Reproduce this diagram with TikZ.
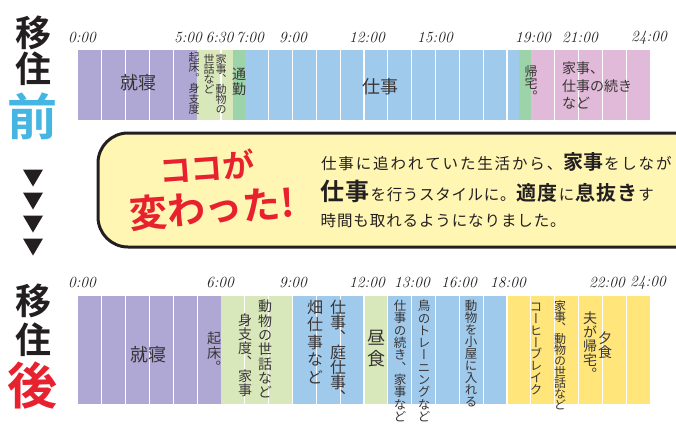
\documentclass[tikz,border=0pt]{standalone}
\usepackage{fontspec}
\newfontfamily\jp[BoldFont={Noto Sans CJK JP Bold}]{Noto Sans CJK JP}
\newfontfamily\jpv[RawFeature=+vert]{Noto Sans CJK JP}
\usetikzlibrary{positioning}

\definecolor{sleepc}{HTML}{AFA8D4}
\definecolor{homec}{HTML}{D9E8BA}
\definecolor{movec}{HTML}{9DD3A8}
\definecolor{workc}{HTML}{A0CAEC}
\definecolor{eveningc}{HTML}{E2BAD9}
\definecolor{freec}{HTML}{FFE57A}
\definecolor{inkc}{HTML}{231F20}
\definecolor{beforec}{HTML}{45B5E2}
\definecolor{afterc}{HTML}{E8212E}
\definecolor{notec}{HTML}{FFF6B3}

\tikzset{
	hour/.style={font=\fontsize{15.5}{15.5}\selectfont\itshape, text=inkc, inner sep=0pt},
	sep/.style={draw=white, line width=1.2pt},
	memo/.style={font=\fontsize{#1}{#1}\selectfont\jp, text=inkc!90, inner sep=0pt},
	vmemo/.style={font=\fontsize{#1}{#1}\selectfont\jpv, text=inkc!90, inner sep=0pt, anchor=north},
	side/.style={font=\fontsize{#1}{#1}\selectfont\jp\bfseries, inner sep=0pt},
	msg/.style={font=\fontsize{15.5}{15.5}\selectfont\jp, text=inkc, inner sep=0pt, anchor=base west}
}
\newcommand{\hx}[1]{78+#1*23.833}
\newcommand{\seg}[5]{
	\fill[#5] ({\hx{#3}},#1) rectangle ({\hx{#4}},#2);
}
% one character per line / per cell
\def\vchars#1{\ifx#1\relax\else\hbox to 1em{\hss#1\hss}\expandafter\vchars\fi}
\newcommand{\vtext}[2]{\vbox{\baselineskip=#1\lineskiplimit=-100pt\vchars#2\relax}}
\def\hchars#1{\ifx#1\relax\else\hbox to \cellw{\hss#1\hss}\expandafter\hchars\fi}
\newcommand{\spread}[2]{{\def\cellw{#1}\hchars#2\relax}}
\newcommand{\bg}[3]{{\fontsize{#1}{#1}\selectfont\bfseries\spread{#2}{#3}}}

\begin{document}
\begin{tikzpicture}[x=1pt,y=-1pt]
	\useasboundingbox (0,0) rectangle (676,428);
	\clip (0,0) rectangle (676,428);
	\fill[white] (0,0) rectangle (676,428);

	% before
	\node[side=36, text=inkc] (ido1) at (33,33) {移};
	\node[side=36, text=inkc] (ju1) at (33,69) {住};
	\node[side=50, text=beforec] (mae) at (32,116) {前};

	\seg{50}{120}{0}{5}{sleepc}
	\seg{50}{120}{5}{6.5}{homec}
	\seg{50}{120}{6.5}{7}{movec}
	\seg{50}{120}{7}{18.5}{workc}
	\seg{50}{120}{18.5}{19}{movec}
	\seg{50}{120}{19}{24}{eveningc}
	\foreach \h in {1,2,3,4,6,8,9,...,18,20,21,22,23}
		\draw[sep] ({\hx{\h}},50) -- ({\hx{\h}},120);

	\foreach \t/\x in {0:00/82,5:00/188,6:30/219.5,7:00/250,9:00/293,12:00/367,15:00/435,19:00/533,21:00/580,24:00/649}
		\node[hour] at (\x,38) {\t};

	\node[memo=18] (sleep1) at (138,83) {就寝};
	\node[memo=18] (work1) at (380,87) {仕事};
	\node[vmemo=11] (rise1) at (194,52) {\vtext{10.5pt}{起床。身支度}};
	\node[vmemo=11] (chore1a) at (221,54) {\vtext{10pt}{家事、動物の}};
	\node[vmemo=11] (chore1b) at (209,54) {\vtext{10pt}{世話など}};
	\node[vmemo=14] (commute) at (239,68) {\vtext{14.5pt}{通勤}};
	\node[vmemo=13] (home1) at (531,65) {\vtext{12.7pt}{帰宅。}};
	\node[memo=14, font=\fontsize{14}{17.5}\selectfont\jp, anchor=west, align=left] (even1) at (562,85.5) {家事、\\仕事の続き\\など};

	% change
	\draw[line width=3pt, draw=inkc, fill=notec, rounded corners=30pt] (98,133) rectangle (730,247);
	\node[side=32, text=afterc, rotate=4] (koko) at (207,167) {ココが};
	\node[side=38, text=afterc, rotate=4] (kawatta) at (212,208) {変わった!};
	\node[msg] (line1) at (320,169) {\spread{17.36pt}{仕事に追われていた生活から、}\bg{20}{20pt}{家事}\spread{17.3pt}{をしなが}};
	\node[msg] (line2) at (320,200) {\bg{24}{25pt}{仕事}\spread{16.2pt}{を行うスタイルに。}\bg{20}{21pt}{適度}\spread{17pt}{に}\bg{20}{21pt}{息抜き}\spread{16pt}{す}};
	\node[msg] (line3) at (320,226) {\spread{16.4pt}{時間も取れるようになりました。}};

	\foreach \y in {178,201,224,247}
		\fill[inkc] (23,\y-8.5) -- (43,\y-8.5) -- (33,\y+8.5) -- cycle;

	% after
	\node[side=36, text=inkc] (ido2) at (33,301) {移};
	\node[side=36, text=inkc] (ju2) at (33,340) {住};
	\node[side=50, text=afterc] (ato) at (33,385) {後};

	\seg{296}{404}{0}{6}{sleepc}
	\seg{296}{404}{6}{9}{homec}
	\seg{296}{404}{9}{12}{workc}
	\seg{296}{404}{12}{13}{homec}
	\seg{296}{404}{13}{18}{workc}
	\seg{296}{404}{18}{24}{freec}
	\foreach \h in {1,...,5,7,8,...,23}
		\draw[sep] ({\hx{\h}},296) -- ({\hx{\h}},404);

	\foreach \t/\x in {0:00/82,6:00/220,9:00/293,12:00/367,13:00/412,16:00/459,18:00/508,22:00/607,24:00/648}
		\node[hour] at (\x,283) {\t};

	\node[memo=18] (sleep2) at (148,355) {就寝};
	\node[vmemo=14] (rise2) at (214,332) {\vtext{14.3pt}{起床。}};
	\node[vmemo=14] (care2b) at (245,313) {\vtext{14pt}{身支度、家事}};
	\node[vmemo=14] (care2a) at (265,300) {\vtext{14.3pt}{動物の世話など}};
	\node[vmemo=16] (farm2b) at (315,300) {\vtext{17.4pt}{畑仕事など}};
	\node[vmemo=16] (farm2a) at (338,300) {\vtext{15pt}{仕事、庭仕事、}};
	\node[vmemo=18] (lunch) at (376,330) {\vtext{21pt}{昼食}};
	\node[vmemo=12.5] (work2) at (400,300) {\vtext{12.3pt}{仕事の続き、家事など}};
	\node[vmemo=12.5] (bird) at (424,300) {\vtext{12.3pt}{鳥のトレーニングなど}};
	\node[vmemo=12.5] (barn) at (471,300) {\vtext{12pt}{動物を小屋に入れる}};
	\node[vmemo=12.5] (coffee) at (536,303) {\vtext{11.8pt}{コーヒーブレイク}};
	\node[vmemo=12] (chore2) at (560,300) {\vtext{11pt}{家事、動物の世話など}};
	\node[vmemo=14] (husband) at (590,312) {\vtext{14pt}{夫が帰宅。}};
	\node[vmemo=14] (dinner) at (605,332) {\vtext{14pt}{夕食}};
\end{tikzpicture}
\end{document}
